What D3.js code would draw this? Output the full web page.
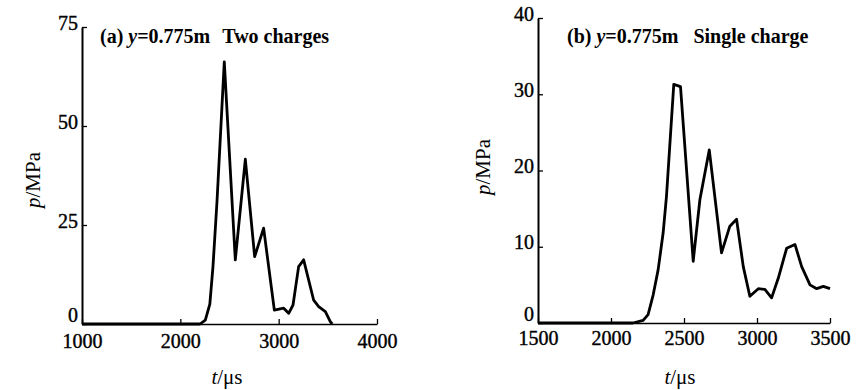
<!DOCTYPE html>
<html>
<head>
<meta charset="utf-8">
<script src="https://cdn.jsdelivr.net/npm/d3@7"></script>
<style>
  body { margin: 0; background: #fff; }
  svg text { font-family: "Liberation Serif", "Times New Roman", serif; fill: #000; }
  .axis path, .axis line { stroke: #000; }
  .axis text { font-size: 20px; stroke: #000; stroke-width: 0.4px; }
</style>
</head>
<body>
<svg id="viz" width="860" height="390"></svg>
<script>
// panel (a): two charges
var timeA = [1000, 2200, 2254, 2300, 2332, 2373, 2447, 2559, 2661, 2756, 2847, 2956, 3051, 3102, 3146, 3203, 3254, 3356, 3407, 3475, 3525, 3545];
var presA = [0, 0, 1, 5, 14.5, 31, 66.2, 16.2, 41.6, 17, 24.2, 3.5, 4, 2.7, 4.8, 14.5, 16.2, 6, 4.4, 3.1, 0.6, 0];
var ticksXA = [1000, 2000, 3000, 4000];
var ticksYA = [0, 25, 50, 75];

// panel (b): single charge
var timeB = [1500, 2150, 2220, 2254, 2289, 2323, 2357, 2380, 2430, 2476, 2563, 2609, 2673, 2757, 2814, 2860, 2906, 2951, 3009, 3054, 3100, 3146, 3203, 3260, 3306, 3363, 3409, 3454, 3500];
var presB = [0, 0, 0.35, 1.1, 3.7, 7, 11.8, 16.6, 31.3, 31, 8.1, 16.2, 22.7, 9.2, 12.7, 13.6, 7.4, 3.5, 4.5, 4.4, 3.3, 5.9, 9.8, 10.3, 7.4, 5, 4.5, 4.8, 4.5];
var ticksXB = [1500, 2000, 2500, 3000, 3500];
var ticksYB = [0, 10, 20, 30, 40];

var svg = d3.select("#viz");

function panel(opt) {
    var x = d3.scaleLinear().domain(opt.xdom).range([opt.left, opt.right]);
    var y = d3.scaleLinear().domain(opt.ydom).range([opt.bottom, opt.top]);

    // x axis, ticks pointing inward
    var gx = svg.append("g").attr("class", "axis")
        .attr("transform", "translate(0," + opt.bottom + ")")
        .call(d3.axisBottom(x).tickValues(opt.xticks).tickFormat(d3.format("d"))
            .tickSizeInner(-5).tickSizeOuter(0).tickPadding(opt.xpad));
    gx.select(".domain").attr("stroke-width", 1.6);
    gx.selectAll(".tick line").attr("stroke-width", 1.3);

    var gy = svg.append("g").attr("class", "axis")
        .attr("transform", "translate(" + opt.left + ",0)")
        .call(d3.axisLeft(y).tickValues(opt.yticks)
            .tickSizeInner(-5).tickSizeOuter(0).tickPadding(4));
    gy.select(".domain").attr("stroke-width", 2);
    gy.selectAll(".tick line").attr("stroke-width", 1.3);
    gy.selectAll(".tick text").attr("dy", d => d == 0 ? "-0.15em" : "0.1em");

    var pts = opt.xs.map(function(t, i) { return [t, opt.ys[i]]; });
    var line = d3.line().x(d => x(d[0])).y(d => y(d[1]));
    svg.append("path").datum(pts)
        .attr("d", line)
        .attr("fill", "none")
        .attr("stroke", "#000")
        .attr("stroke-width", 2.8)
        .attr("stroke-linejoin", "round");

    // panel title
    var t = svg.append("text")
        .attr("x", opt.titleX).attr("y", 43)
        .style("font-size", "20px").style("font-weight", "bold");
    t.append("tspan").text(opt.tag + " ");
    t.append("tspan").style("font-style", "italic").text("y");
    t.append("tspan").text("=0.775m");
    t.append("tspan").attr("dx", opt.gap).text(opt.label);

    // axis titles
    var yl = svg.append("text")
        .attr("transform", "translate(" + opt.ylabX + "," + opt.ylabY + ") rotate(-90)")
        .attr("text-anchor", "middle")
        .style("font-size", "21px");
    yl.append("tspan").style("font-style", "italic").text("p");
    yl.append("tspan").text("/MPa");

    var xl = svg.append("text")
        .attr("x", opt.xlabX).attr("y", 384)
        .attr("text-anchor", "middle")
        .style("font-size", "21px");
    xl.append("tspan").style("font-style", "italic").text("t");
    xl.append("tspan").text("/\u03bcs");
}

panel({
    xdom: [1000, 4000], ydom: [0, 75],
    left: 82, right: 377, top: 27, bottom: 324,
    xticks: ticksXA, yticks: ticksYA, xpad: 10,
    xs: timeA, ys: presA,
    tag: "(a)", label: "Two charges", gap: 12,
    titleX: 100, ylabX: 40, ylabY: 180, xlabX: 227
});

panel({
    xdom: [1500, 3500], ydom: [0, 40],
    left: 538, right: 830, top: 18, bottom: 323,
    xticks: ticksXB, yticks: ticksYB, xpad: 8,
    xs: timeB, ys: presB,
    tag: "(b)", label: "Single charge", gap: 15,
    titleX: 567, ylabX: 490, ylabY: 167, xlabX: 680
});
</script>
</body>
</html>
